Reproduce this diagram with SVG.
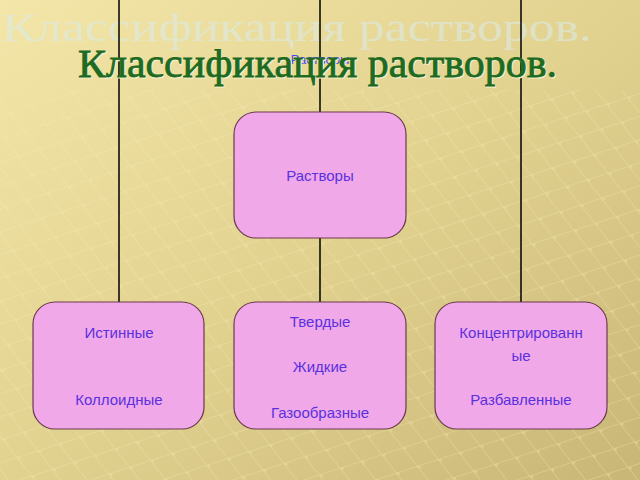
<svg xmlns="http://www.w3.org/2000/svg" width="640" height="480" viewBox="0 0 640 480">
<defs>
<linearGradient id="bg" x1="0" y1="0" x2="1" y2="1">
<stop offset="0" stop-color="#f3e6a8"/>
<stop offset="0.5" stop-color="#e2d290"/>
<stop offset="1" stop-color="#c8b676"/>
</linearGradient>
<pattern id="grid" width="22" height="22" patternUnits="userSpaceOnUse" patternTransform="rotate(-18) skewX(20)">
<path d="M0 0H22M0 0V22" stroke="#f6ecb8" stroke-width="2" fill="none" opacity="0.6"/>
<circle cx="0" cy="0" r="3.5" fill="#f4e7ac" opacity="0.8"/>
</pattern>
</defs>
<style>
.node rect{fill:#f0a8e8;stroke:#6b3a50;stroke-width:1.2}
.node text{font-family:"Liberation Sans",Arial,sans-serif;font-size:15px;fill:#5a30e0;text-anchor:middle}
.conn line{stroke:#000;stroke-width:1.5}
.title{font-family:"Liberation Serif","Times New Roman",serif;font-size:40px}
</style>
<rect width="640" height="480" fill="url(#bg)"/>
<rect x="0" y="90" width="640" height="390" fill="url(#grid)" opacity="0.5"/>
<text class="title" x="2" y="41" font-size="48" textLength="590" lengthAdjust="spacingAndGlyphs" fill="#dcebe6" opacity="0.6">Классификация растворов.</text>
<g class="conn">
<line x1="119" y1="0" x2="119" y2="302"/>
<line x1="320" y1="0" x2="320" y2="302"/>
<line x1="521" y1="0" x2="521" y2="302"/>
</g>
<text x="320" y="64" font-family="'Liberation Sans',Arial,sans-serif" font-size="13" fill="#4a4af0" text-anchor="middle">Растворы</text>
<text class="title" x="79" y="78" textLength="479" lengthAdjust="spacingAndGlyphs" fill="#f4f0d0" stroke="#f4f0d0" stroke-width="1">Классификация растворов.</text>
<text class="title" x="78" y="77" textLength="479" lengthAdjust="spacingAndGlyphs" fill="#1e6a1e" stroke="#1e6a1e" stroke-width="0.8">Классификация растворов.</text>
<g id="root" class="node">
<rect x="234" y="112" width="172" height="126" rx="22"/>
<text x="320" y="181">Растворы</text>
</g>
<g id="n1" class="node">
<rect x="33" y="302" width="171" height="127" rx="22"/>
<text x="119" y="338">Истинные</text>
<text x="119" y="405">Коллоидные</text>
</g>
<g id="n2" class="node">
<rect x="234" y="302" width="172" height="127" rx="22"/>
<text x="320" y="327">Твердые</text>
<text x="320" y="372">Жидкие</text>
<text x="320" y="418">Газообразные</text>
</g>
<g id="n3" class="node">
<rect x="435" y="302" width="172" height="127" rx="22"/>
<text x="521" y="338">Концентрированн</text>
<text x="521" y="361">ые</text>
<text x="521" y="405">Разбавленные</text>
</g>
</svg>
